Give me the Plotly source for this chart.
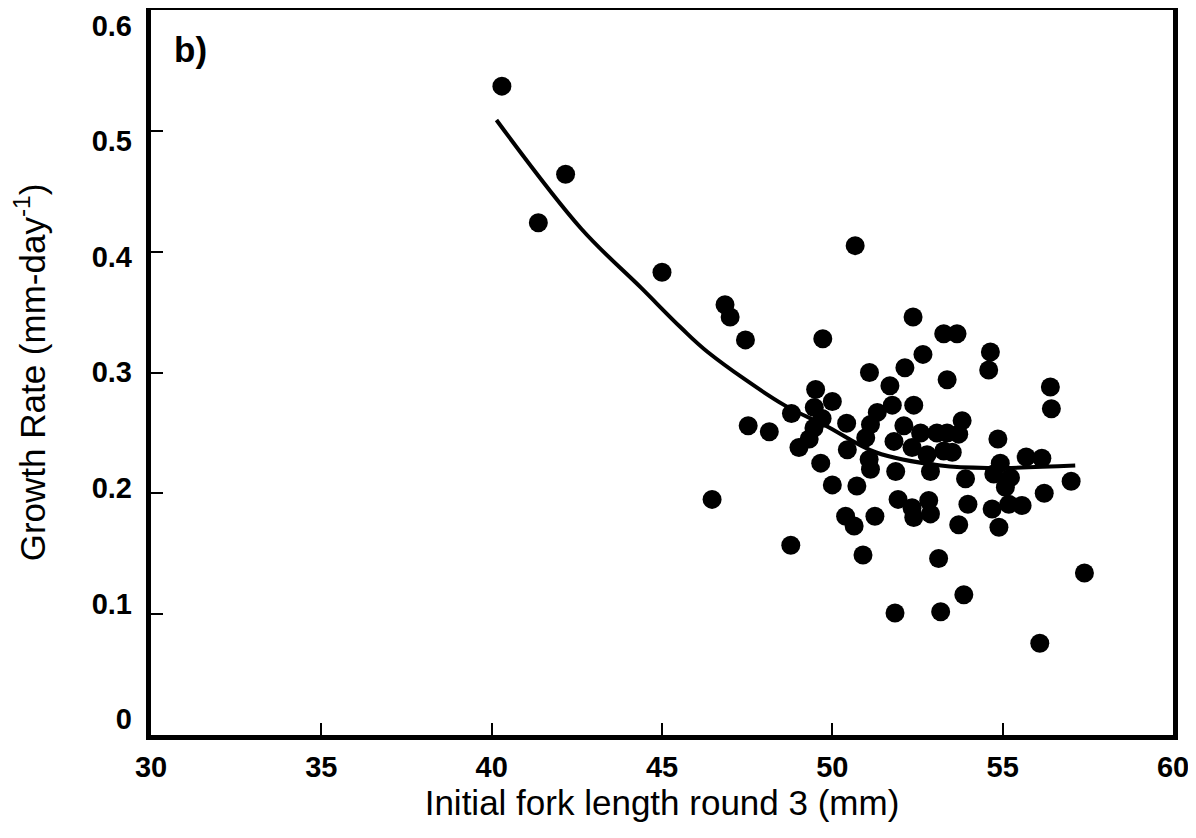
import plotly.graph_objects as go

# Observed points: initial fork length (mm) and growth rate (mm/day)
fork_length = [40.30, 41.37, 42.17, 45.00, 46.85, 47.00, 47.45, 49.72, 50.67, 51.09,
               47.53, 48.15, 48.80, 46.47, 48.78, 49.51, 50.00, 49.47, 49.46, 50.42,
               51.69, 52.39, 51.76, 51.32, 51.12, 49.02, 49.32, 49.66, 50.44, 50.98,
               51.08, 51.12, 51.86, 51.81, 52.10, 52.59, 52.34, 52.78, 53.07, 53.27,
               52.88, 50.00, 50.72, 51.93, 52.34, 52.83, 52.88, 52.39, 50.39, 50.64,
               51.25, 50.90, 53.12, 53.86, 51.84, 53.18, 57.40, 56.09, 52.37, 53.27,
               53.66, 54.64, 54.59, 52.66, 52.13, 53.37, 56.40, 56.43, 53.81, 53.37,
               53.71, 53.52, 54.86, 54.93, 55.69, 56.15, 53.91, 54.74, 55.23, 55.08,
               55.57, 56.22, 57.01, 53.98, 54.69, 54.89, 53.71, 55.18, 49.70]
growth_rate = [0.537, 0.424, 0.464, 0.383, 0.356, 0.346, 0.327, 0.328, 0.405, 0.300,
               0.256, 0.251, 0.266, 0.195, 0.157, 0.286, 0.276, 0.271, 0.254, 0.258,
               0.289, 0.273, 0.273, 0.267, 0.257, 0.238, 0.245, 0.225, 0.236, 0.246,
               0.228, 0.220, 0.218, 0.243, 0.256, 0.250, 0.238, 0.232, 0.250, 0.235,
               0.218, 0.207, 0.206, 0.195, 0.188, 0.194, 0.183, 0.180, 0.181, 0.173,
               0.181, 0.149, 0.146, 0.116, 0.101, 0.102, 0.134, 0.076, 0.346, 0.332,
               0.332, 0.317, 0.302, 0.315, 0.304, 0.294, 0.288, 0.270, 0.260, 0.250,
               0.249, 0.234, 0.245, 0.225, 0.230, 0.229, 0.212, 0.216, 0.213, 0.205,
               0.190, 0.200, 0.210, 0.191, 0.187, 0.172, 0.174, 0.191, 0.262]

# Fitted curve
fit_x = [40.14, 42.63, 44.39, 45.56, 46.34, 48.59, 49.81, 51.27, 53.18, 54.64, 57.13]
fit_y = [0.509, 0.419, 0.370, 0.337, 0.317, 0.273, 0.256, 0.234, 0.223, 0.221, 0.223]

x_ticks = [30, 35, 40, 45, 50, 55, 60]
y_ticks = [0, 0.1, 0.2, 0.3, 0.4, 0.5, 0.6]
y_ticktext = ["0", "0.1", "0.2", "0.3", "0.4", "0.5", "0.6"]

FONT = "Liberation Sans, Arial, Helvetica, sans-serif"
TICKFONT = dict(family=FONT, size=29, color="black", weight="bold")

fig = go.Figure()
fig.add_trace(go.Scatter(
    x=fork_length, y=growth_rate, mode="markers",
    marker=dict(size=19, color="black", line=dict(width=0)),
    showlegend=False,
))
fig.add_trace(go.Scatter(
    x=fit_x, y=fit_y, mode="lines",
    line=dict(color="black", width=4, shape="spline"),
    showlegend=False,
))
# empty trace so the label axis (scanned original has slightly compressed labels) is drawn
fig.add_trace(go.Scatter(x=[], y=[], yaxis="y2", showlegend=False, hoverinfo="skip"))

fig.update_layout(
    width=1188, height=830,
    margin=dict(l=143, r=23, t=2, b=103),
    paper_bgcolor="white", plot_bgcolor="white",
    xaxis=dict(range=[30, 60], tickvals=x_ticks,
               showline=True, linecolor="black", linewidth=5, mirror=True,
               showgrid=False, zeroline=False, automargin=False,
               ticks="inside", ticklen=12, tickwidth=1.5, tickcolor="black",
               ticklabeloverflow="allow", ticklabelstandoff=2,
               tickfont=TICKFONT,
               title=dict(text="Initial fork length round 3 (mm)",
                          font=dict(family=FONT, size=35, color="black"),
                          standoff=8)),
    yaxis=dict(range=[0, 0.6], tickvals=y_ticks, showticklabels=False,
               showline=True, linecolor="black", linewidth=5, mirror=True,
               showgrid=False, zeroline=False, automargin=False,
               ticks="inside", ticklen=12, tickwidth=1.5, tickcolor="black",
               title=dict(text="Growth Rate (mm-day<sup>-1</sup>)",
                          font=dict(family=FONT, size=35, color="black"),
                          standoff=98)),
    yaxis2=dict(overlaying="y", side="left", anchor="x",
                range=[-0.01385, 0.6135], tickvals=y_ticks, ticktext=y_ticktext,
                showline=False, showgrid=False, zeroline=False, ticks="",
                automargin=False, ticklabeloverflow="allow",
                ticklabelstandoff=18, tickfont=TICKFONT),
    annotations=[dict(text="b)", x=0.0205, y=0.945, xref="paper", yref="paper",
                      xanchor="left", yanchor="middle", showarrow=False,
                      font=dict(family=FONT, size=35, color="black", weight="bold"))],
)

fig.write_html("out.html")
